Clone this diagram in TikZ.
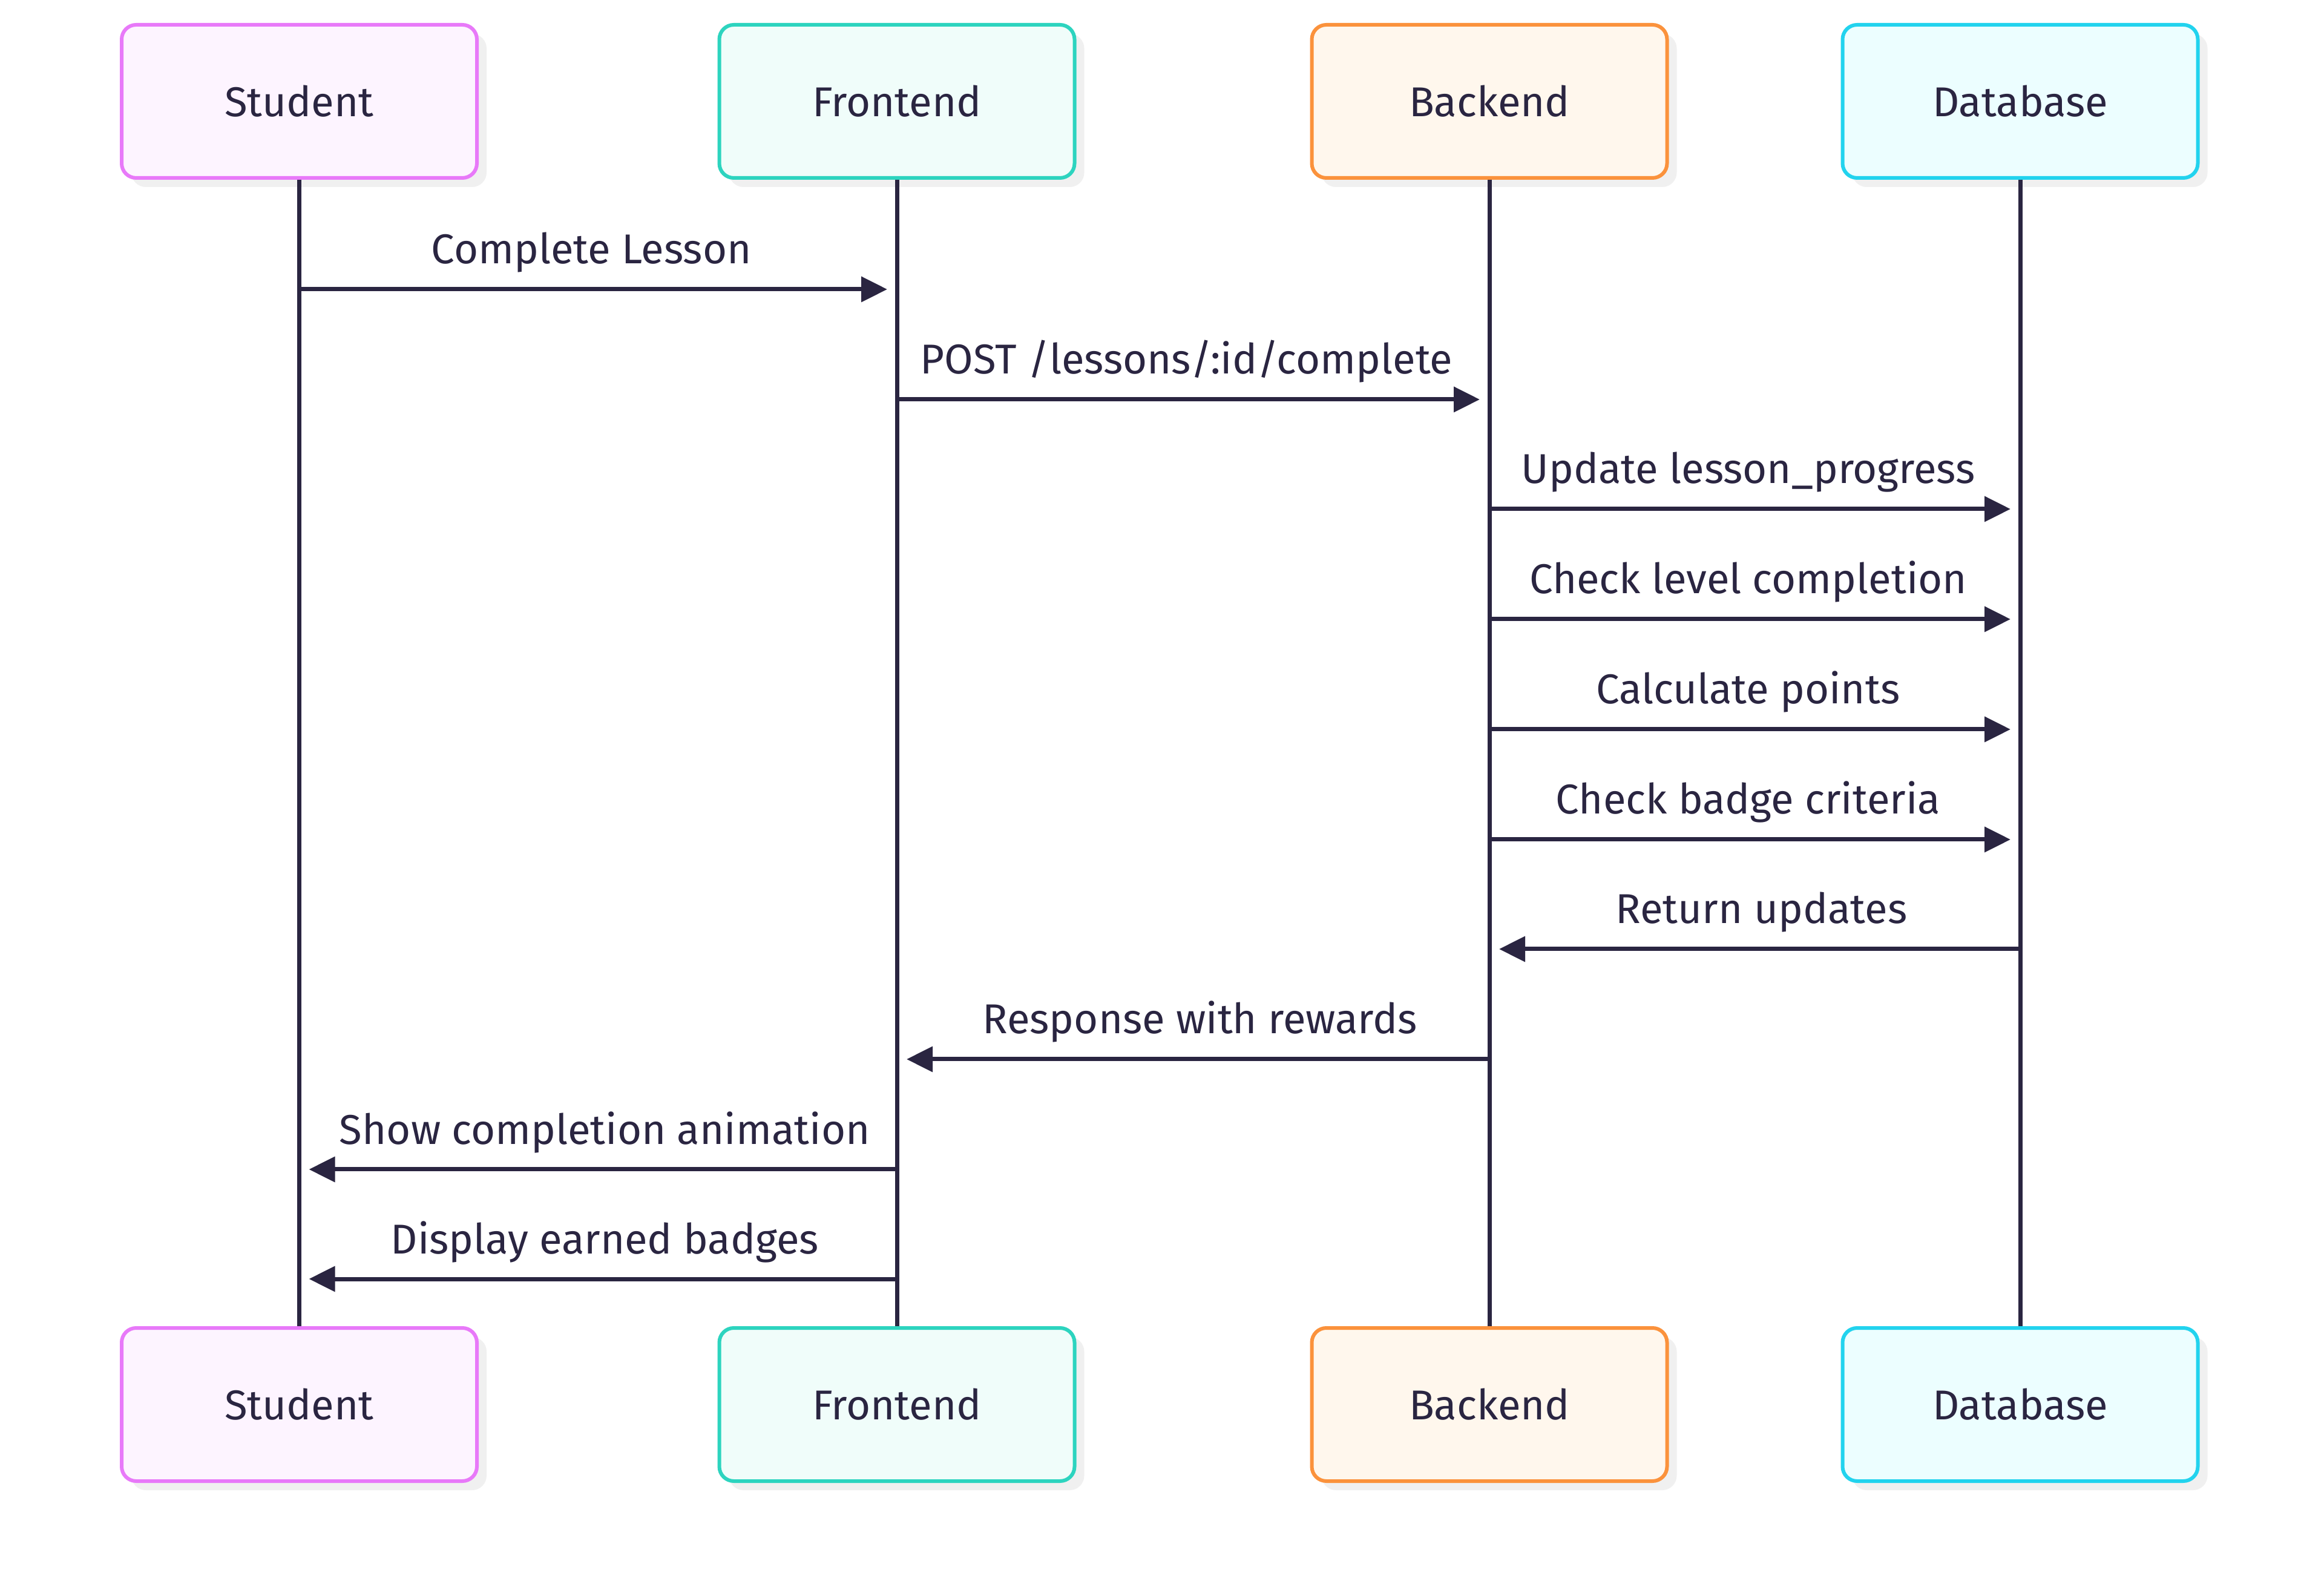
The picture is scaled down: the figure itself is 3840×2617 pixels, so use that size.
\documentclass[tikz,border=0pt]{standalone}
\usepackage{fontspec}
\setmainfont{Fira Sans}
\usetikzlibrary{arrows.meta,shadows}
\definecolor{ink}{HTML}{2A2541}
\definecolor{shad}{HTML}{F0F0F0}
\definecolor{stuB}{HTML}{E879F9}\definecolor{stuF}{HTML}{FDF4FF}
\definecolor{froB}{HTML}{2DD4BF}\definecolor{froF}{HTML}{F0FDFA}
\definecolor{bacB}{HTML}{FB923C}\definecolor{bacF}{HTML}{FFF7ED}
\definecolor{datB}{HTML}{22D3EE}\definecolor{datF}{HTML}{ECFEFF}
\begin{document}
\begin{tikzpicture}[x=0.1mm,y=-0.1mm,
  every node/.style={font=\fontsize{19.6pt}{24pt}\selectfont, text=ink},
  actor/.style={rectangle, rounded corners=2.4mm, line width=0.6mm,
    minimum width=58.7mm, minimum height=25.3mm, inner sep=0pt,
    drop shadow={shadow xshift=1.6mm, shadow yshift=-1.5mm, fill=shad, opacity=1}},
  life/.style={draw=ink, line width=0.7mm},
  msg/.style={draw=ink, line width=0.7mm, -{Triangle[length=4.3mm,width=4.1mm]}, shorten >=1.6mm},
  lblr/.style={anchor=base, yshift=4.2mm, xshift=-1.1mm},
  lbll/.style={anchor=base, yshift=4.2mm, xshift=1.1mm}]
\useasboundingbox[fill=white] (0,0) rectangle (3840,2617);
% top participants
\node[actor, draw=stuB, fill=stuF] (sT) at (494.5,167.5) {Student};
\node[actor, draw=froB, fill=froF] (fT) at (1482,167.5) {Frontend};
\node[actor, draw=bacB, fill=bacF] (bT) at (2461,167.5) {Backend};
\node[actor, draw=datB, fill=datF] (dT) at (3338,167.5) {Database};
% bottom participants
\node[actor, draw=stuB, fill=stuF] (sB) at (494.5,2320.5) {Student};
\node[actor, draw=froB, fill=froF] (fB) at (1482,2320.5) {Frontend};
\node[actor, draw=bacB, fill=bacF] (bB) at (2461,2320.5) {Backend};
\node[actor, draw=datB, fill=datF] (dB) at (3338,2320.5) {Database};
% lifelines
\draw[life] (sT.south) -- (sB.north);
\draw[life] (fT.south) -- (fB.north);
\draw[life] (bT.south) -- (bB.north);
\draw[life] (dT.south) -- (dB.north);
% message rows
\coordinate (y1) at (0,478);
\coordinate (y2) at (0,660);
\coordinate (y3) at (0,841);
\coordinate (y4) at (0,1023);
\coordinate (y5) at (0,1205);
\coordinate (y6) at (0,1387);
\coordinate (y7) at (0,1568);
\coordinate (y8) at (0,1750);
\coordinate (y9) at (0,1932);
\coordinate (y10) at (0,2113);
\draw[msg] (sT.south |- y1) -- node[lblr] {Complete Lesson} (fT.south |- y1);
\draw[msg] (fT.south |- y2) -- node[lblr] {POST /lessons/:id/complete} (bT.south |- y2);
\draw[msg] (bT.south |- y3) -- node[lblr] {Update lesson\_progress} (dT.south |- y3);
\draw[msg] (bT.south |- y4) -- node[lblr] {Check level completion} (dT.south |- y4);
\draw[msg] (bT.south |- y5) -- node[lblr] {Calculate points} (dT.south |- y5);
\draw[msg] (bT.south |- y6) -- node[lblr] {Check badge criteria} (dT.south |- y6);
\draw[msg] (dT.south |- y7) -- node[lbll] {Return updates} (bT.south |- y7);
\draw[msg] (bT.south |- y8) -- node[lbll] {Response with rewards} (fT.south |- y8);
\draw[msg] (fT.south |- y9) -- node[lbll] {Show completion animation} (sT.south |- y9);
\draw[msg] (fT.south |- y10) -- node[lbll] {Display earned badges} (sT.south |- y10);
\end{tikzpicture}
\end{document}
